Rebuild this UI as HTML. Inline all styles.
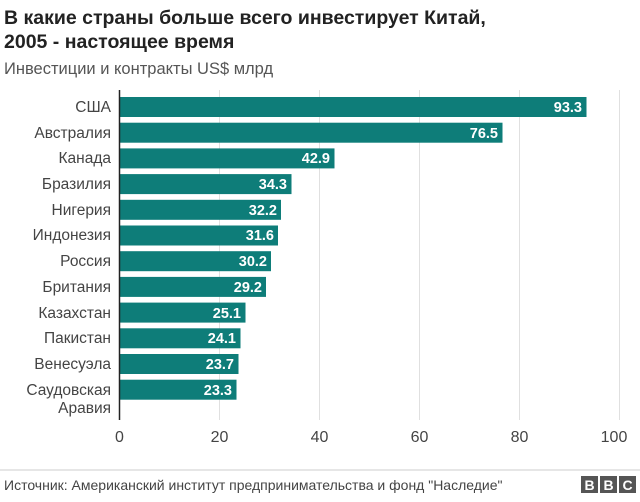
<!DOCTYPE html>
<html><head><meta charset="utf-8"><style>
body{margin:0;background:#fff;width:640px;height:497px;overflow:hidden;font-family:"Liberation Sans",Arial,sans-serif}
</style></head><body>
<svg width="640" height="497" xmlns="http://www.w3.org/2000/svg" font-family="Liberation Sans, Arial, sans-serif">
<text x="4" y="24" font-size="19.5" font-weight="bold" fill="#222">В какие страны больше всего инвестирует Китай,</text>
<text x="4" y="48" font-size="19.5" font-weight="bold" fill="#222">2005 - настоящее время</text>
<text x="4" y="74" font-size="16.5" fill="#555">Инвестиции и контракты US$ млрд</text>
<g stroke="#e0e0e0" stroke-width="1">
<line x1="219.5" y1="90" x2="219.5" y2="420"/>
<line x1="319.5" y1="90" x2="319.5" y2="420"/>
<line x1="419.5" y1="90" x2="419.5" y2="420"/>
<line x1="519.5" y1="90" x2="519.5" y2="420"/>
<line x1="619.5" y1="90" x2="619.5" y2="420"/>
</g>
<g fill="#0e7d79">
<rect x="120" y="97" width="466.5" height="20"/>
<rect x="120" y="122.7" width="382.5" height="20"/>
<rect x="120" y="148.4" width="214.5" height="20"/>
<rect x="120" y="174.1" width="171.5" height="20"/>
<rect x="120" y="199.8" width="161" height="20"/>
<rect x="120" y="225.5" width="158" height="20"/>
<rect x="120" y="251.2" width="151" height="20"/>
<rect x="120" y="276.9" width="146" height="20"/>
<rect x="120" y="302.6" width="125.5" height="20"/>
<rect x="120" y="328.3" width="120.5" height="20"/>
<rect x="120" y="354" width="118.5" height="20"/>
<rect x="120" y="379.7" width="116.5" height="20"/>
</g>
<line x1="119.5" y1="90" x2="119.5" y2="420" stroke="#222" stroke-width="1.5"/>
<g font-size="14.5" font-weight="bold" fill="#fff" text-anchor="end">
<text x="582" y="112">93.3</text>
<text x="498" y="138">76.5</text>
<text x="330" y="163">42.9</text>
<text x="287" y="189">34.3</text>
<text x="277" y="215">32.2</text>
<text x="274" y="240">31.6</text>
<text x="267" y="266">30.2</text>
<text x="262" y="292">29.2</text>
<text x="241" y="318">25.1</text>
<text x="236" y="343">24.1</text>
<text x="234" y="369">23.7</text>
<text x="232" y="395">23.3</text>
</g>
<g font-size="15.5" fill="#444" text-anchor="end">
<text x="111" y="112">США</text>
<text x="111" y="138">Австралия</text>
<text x="111" y="163">Канада</text>
<text x="111" y="189">Бразилия</text>
<text x="111" y="215">Нигерия</text>
<text x="111" y="240">Индонезия</text>
<text x="111" y="266">Россия</text>
<text x="111" y="292">Британия</text>
<text x="111" y="318">Казахстан</text>
<text x="111" y="343">Пакистан</text>
<text x="111" y="369">Венесуэла</text>
<text x="111" y="395">Саудовская</text>
<text x="111" y="413">Аравия</text>
</g>
<g font-size="16" fill="#444" text-anchor="middle">
<text x="119.5" y="442">0</text>
<text x="219.5" y="442">20</text>
<text x="319.5" y="442">40</text>
<text x="419.5" y="442">60</text>
<text x="519.5" y="442">80</text>
<text x="614" y="442">100</text>
</g>
<line x1="0" y1="470" x2="640" y2="470" stroke="#ccc" stroke-width="1"/>
<text x="4" y="490" font-size="14" fill="#444">Источник: Американский институт предпринимательства и фонд "Наследие"</text>
<g fill="#555"><rect x="581" y="476" width="17" height="17"/><rect x="600" y="476" width="17" height="17"/><rect x="619" y="476" width="17" height="17"/></g>
<g font-size="14" font-weight="bold" fill="#fff" text-anchor="middle">
<text x="589.5" y="490">B</text><text x="608.5" y="490">B</text><text x="627.5" y="490">C</text>
</g>
</svg>
</body></html>
